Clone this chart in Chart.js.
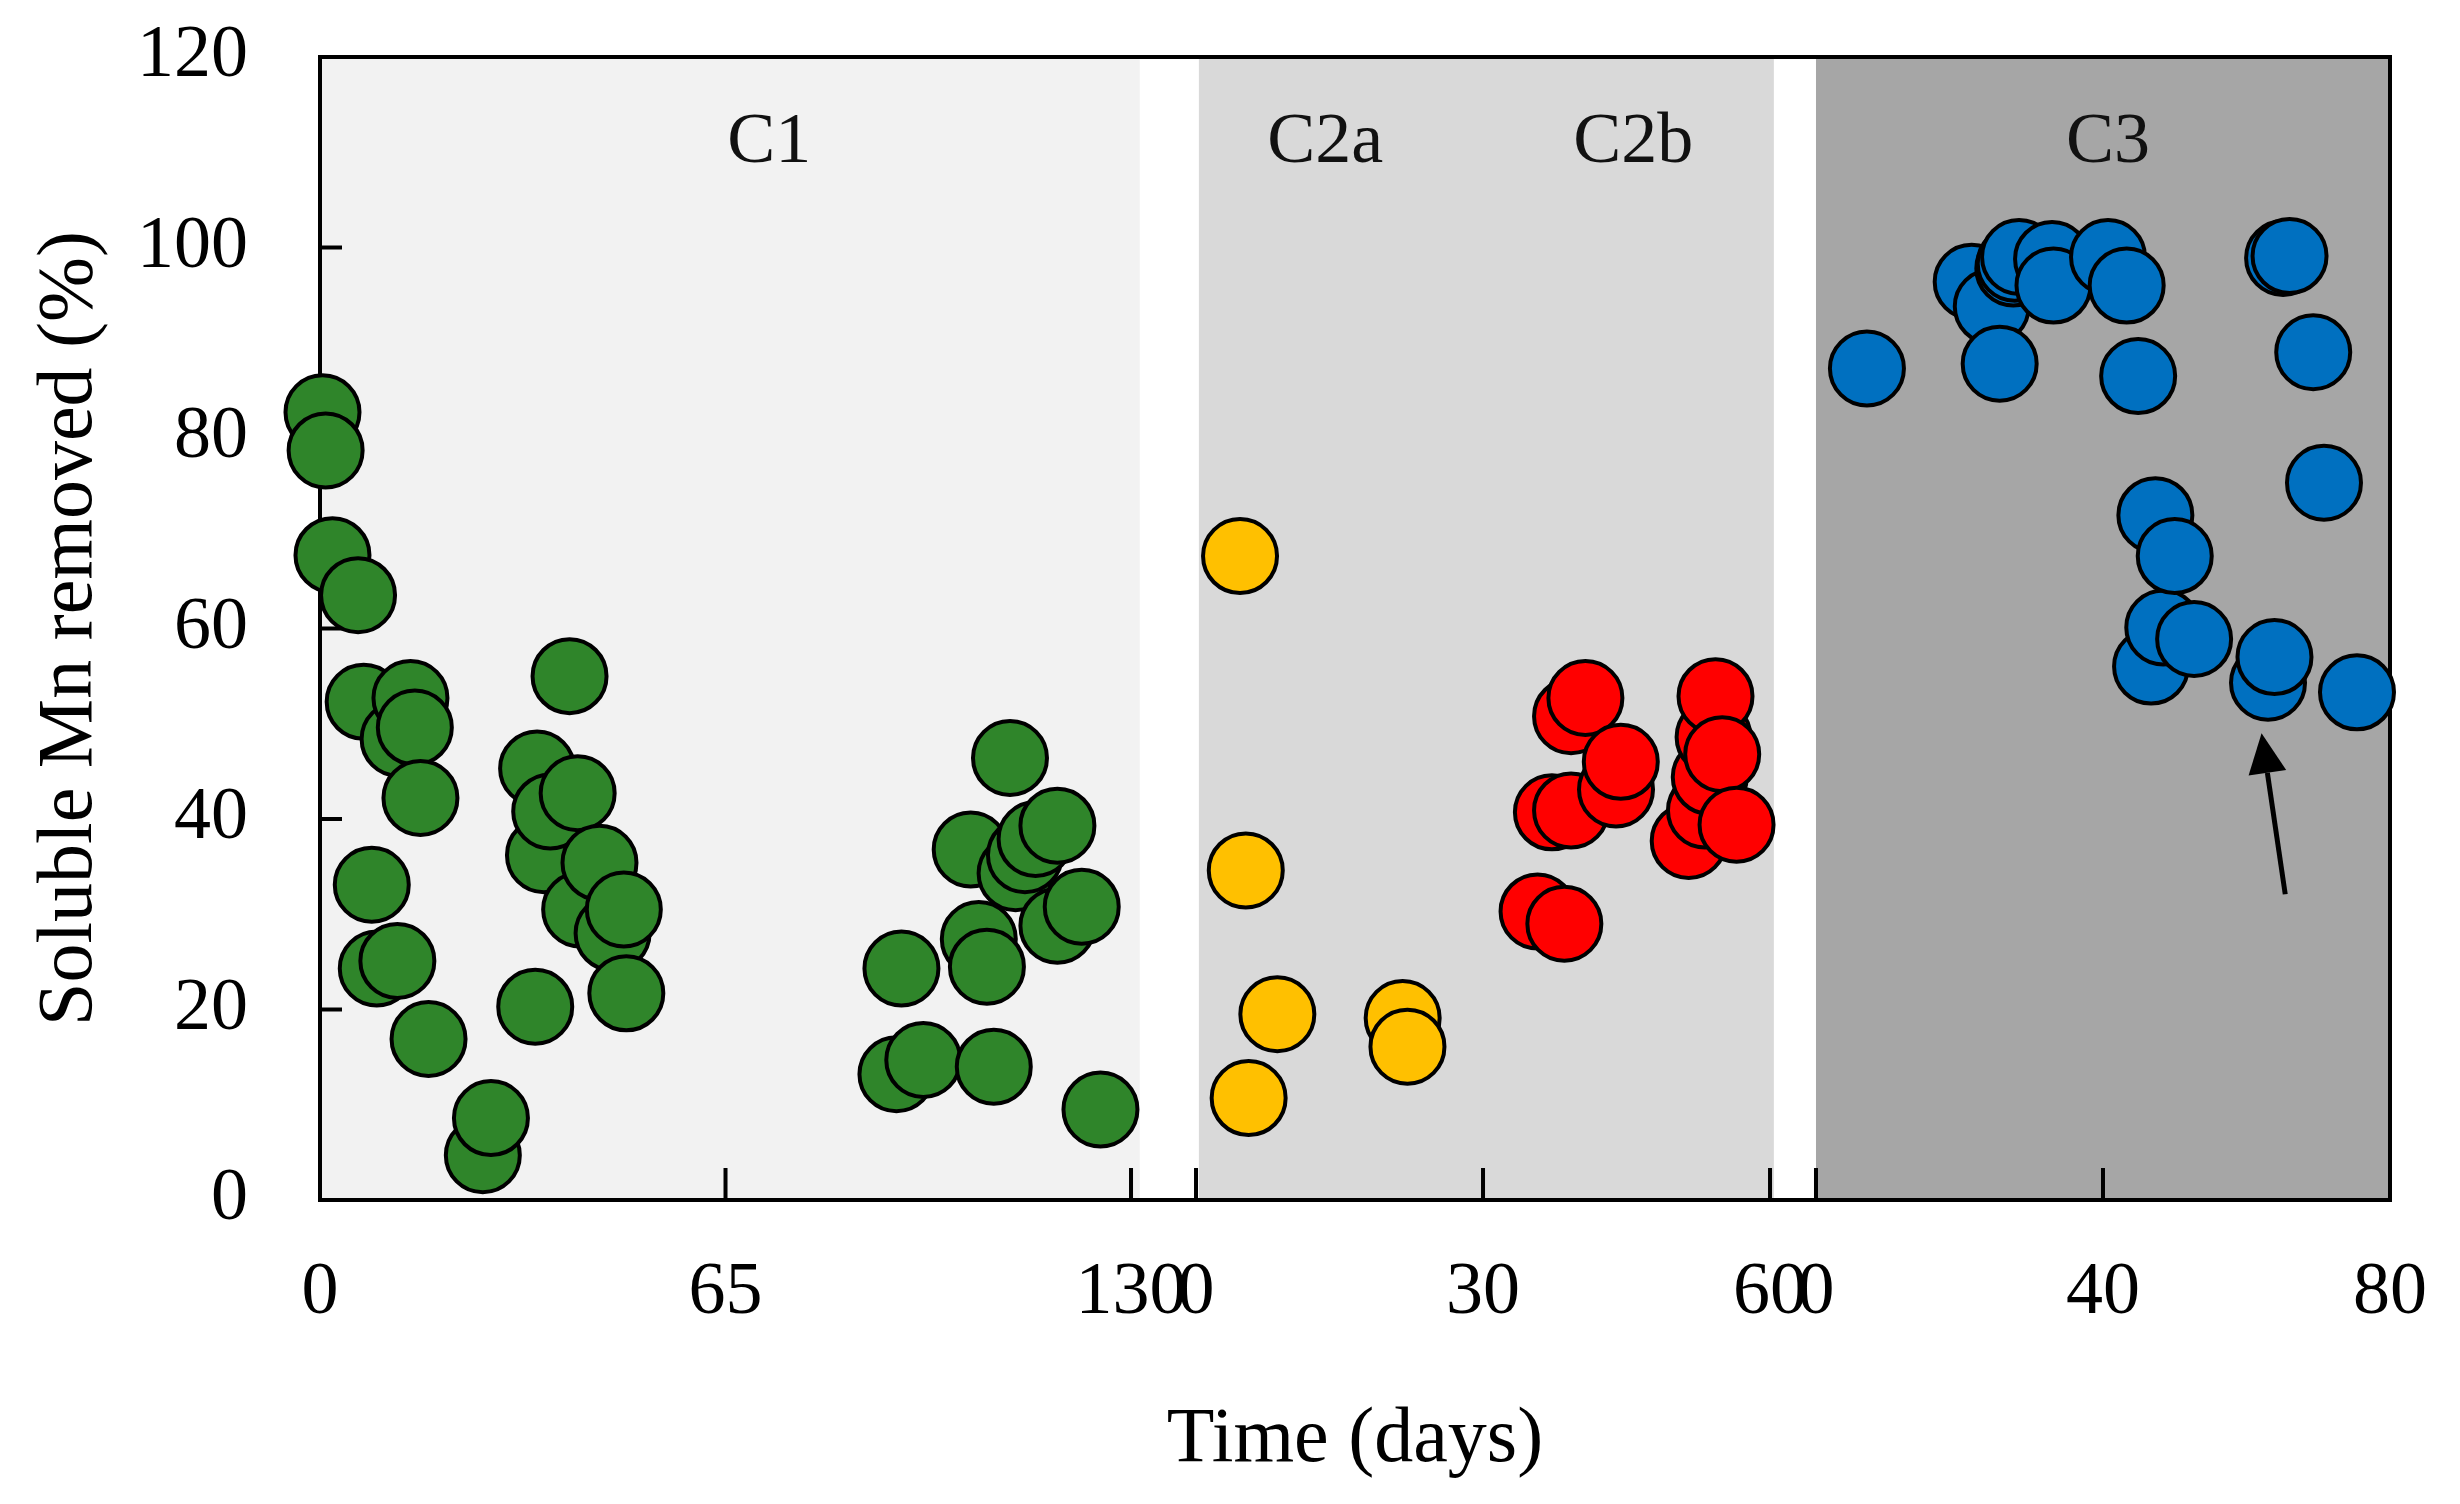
<!DOCTYPE html>
<html>
<head>
<meta charset="utf-8">
<script src="https://cdn.jsdelivr.net/npm/chart.js@4.4.1/dist/chart.umd.min.js"></script>
<style>
html,body{margin:0;padding:0;background:#ffffff;}
#wrap{width:2460px;height:1504px;}
</style>
</head>
<body>
<div id="wrap"><canvas id="chart" width="2460" height="1504"></canvas></div>
<script>
// ---------------- DATA ----------------
// C1 (days 0-130)
const c1Days    = [0.4, 0.9, 2.0, 6.1, 7.0, 8.3, 9.1, 12.4, 12.6, 14.5, 15.2, 16.1, 17.4, 26.1, 27.4, 34.5, 34.8, 35.9, 36.9, 40.0, 41.3, 41.7, 44.8, 46.9, 48.7, 49.1, 92.4, 93.2, 96.7, 104.3, 105.6, 106.9, 108.0, 110.6, 111.5, 113.0, 114.7, 118.2, 118.2, 122.1, 125.1];
const c1Removal = [82.7, 78.7, 67.7, 63.5, 52.3, 33.1, 24.3, 25.1, 48.4, 52.7, 49.6, 42.2, 16.9, 4.7, 8.6, 20.3, 45.3, 36.2, 40.8, 55.0, 42.7, 30.5, 35.4, 28.0, 30.5, 21.7, 13.2, 24.3, 14.7, 36.8, 27.4, 24.5, 14.0, 46.4, 34.3, 36.2, 37.9, 39.3, 28.8, 30.8, 9.5];
// C2a (days 0-60 axis)
const c2aDays    = [4.6, 5.2, 5.5, 8.5, 21.6, 22.1];
const c2aRemoval = [67.6, 34.6, 10.7, 19.5, 19.1, 16.1];
// C2b (days 0-60 axis)
const c2bDays    = [35.7, 37.2, 38.5, 39.2, 39.2, 40.7, 43.9, 44.4, 51.5, 53.2, 53.7, 54.1, 54.3, 55.0, 56.5];
const c2bRemoval = [30.3, 40.7, 29.0, 40.9, 50.8, 52.7, 43.1, 46.0, 37.7, 40.9, 44.4, 48.6, 52.9, 46.8, 39.4];
// C3 (days 0-80)
const c3Days    = [7.1, 21.7, 24.5, 25.6, 27.5, 27.7, 28.3, 32.9, 33.1, 40.7, 43.3, 44.9, 46.7, 47.3, 48.4, 50.0, 52.7, 63.0, 63.9, 65.1, 66.0, 69.3, 70.8, 75.4];
const c3Removal = [87.3, 96.4, 93.8, 87.8, 97.8, 98.3, 99.0, 98.8, 96.0, 99.0, 96.0, 86.5, 56.0, 71.9, 60.1, 67.6, 58.9, 54.3, 57.0, 98.9, 99.1, 89.0, 75.3, 53.3];

// tick labels
const c1TickDays = [0, 65, 130];
const c2TickDays = [0, 30, 60];
const c3TickDays = [0, 40, 80];
const yTickStep = 20;
const phaseNames = ['C1', 'C2a', 'C2b', 'C3'];
const xTitle = 'Time (days)';
const yTitle = 'Soluble Mn removed (%)';

// ---------------- LAYOUT (broken x axis) ----------------
// each segment of the broken axis occupies a part of one 0..1000 virtual scale
const segLayout = [
  {start: 0,     end: 391.8, span: 130},
  {start: 423.2, end: 700.5, span: 60},
  {start: 722.7, end: 1000,  span: 80}
];
function vx(seg, day) {
  const s = segLayout[seg];
  return s.start + day * (s.end - s.start) / s.span;
}
const bands = [
  {seg: 0, from: 0,   to: 131.4, color: '#f2f2f2'},
  {seg: 1, from: 0.3, to: 60.4,  color: '#d9d9d9'},
  {seg: 2, from: 0,   to: 80,    color: '#a6a6a6'}
];
const phaseLabelPos = [
  {seg: 0, day: 72,   y: 111},
  {seg: 1, day: 13.5, y: 111},
  {seg: 1, day: 45.7, y: 111},
  {seg: 2, day: 40.7, y: 111}
];
const arrowSpec = {seg: 2, tipDay: 62.1, tipY: 49.0, tailDay: 65.4, tailY: 32.1};

const FONT = '"Liberation Serif", "Times New Roman", serif';

const xTicks = []
  .concat(c1TickDays.map(d => ({v: vx(0, d), label: String(d)})))
  .concat(c2TickDays.map(d => ({v: vx(1, d), label: String(d)})))
  .concat(c3TickDays.map(d => ({v: vx(2, d), label: String(d)})));

function pts(seg, days, vals) {
  return days.map((d, i) => ({x: vx(seg, d), y: vals[i]}));
}
function ds(label, data, color) {
  return {
    label, data,
    backgroundColor: color,
    borderColor: '#000000',
    borderWidth: 4,
    pointRadius: 37,
    pointHoverRadius: 37,
    clip: false
  };
}

const decor = {
  id: 'decor',
  beforeDatasetsDraw(chart) {
    const {ctx, chartArea: a, scales: {x, y}} = chart;
    ctx.save();
    // shaded phase bands
    bands.forEach(b => {
      const x0 = x.getPixelForValue(vx(b.seg, b.from));
      const x1 = x.getPixelForValue(vx(b.seg, b.to));
      ctx.fillStyle = b.color;
      ctx.fillRect(x0, a.top, x1 - x0, a.bottom - a.top);
    });
    // frame
    ctx.strokeStyle = '#000';
    ctx.lineWidth = 4;
    ctx.strokeRect(a.left, a.top, a.right - a.left, a.bottom - a.top);
    // inward ticks
    ctx.lineWidth = 4;
    ctx.beginPath();
    xTicks.forEach(t => {
      const px = x.getPixelForValue(t.v);
      ctx.moveTo(px, a.bottom);
      ctx.lineTo(px, a.bottom - 32);
    });
    for (let v = 0; v <= 120; v += yTickStep) {
      const py = y.getPixelForValue(v);
      ctx.moveTo(a.left, py);
      ctx.lineTo(a.left + 22, py);
    }
    ctx.stroke();
    // phase labels
    ctx.fillStyle = '#111';
    ctx.font = '72px ' + FONT;
    ctx.textAlign = 'center';
    ctx.textBaseline = 'middle';
    phaseLabelPos.forEach((p, i) => {
      ctx.fillText(phaseNames[i], x.getPixelForValue(vx(p.seg, p.day)), y.getPixelForValue(p.y));
    });
    ctx.restore();
  },
  afterDatasetsDraw(chart) {
    const {ctx, scales: {x, y}} = chart;
    const tx = x.getPixelForValue(vx(arrowSpec.seg, arrowSpec.tipDay));
    const ty = y.getPixelForValue(arrowSpec.tipY);
    const sx = x.getPixelForValue(vx(arrowSpec.seg, arrowSpec.tailDay));
    const sy = y.getPixelForValue(arrowSpec.tailY);
    const ang = Math.atan2(ty - sy, tx - sx);
    const hl = 40, hw = 19;
    const bx = tx - hl * Math.cos(ang), by = ty - hl * Math.sin(ang);
    ctx.save();
    ctx.strokeStyle = '#000';
    ctx.fillStyle = '#000';
    ctx.lineWidth = 5;
    ctx.beginPath();
    ctx.moveTo(sx, sy);
    ctx.lineTo(bx, by);
    ctx.stroke();
    ctx.beginPath();
    ctx.moveTo(tx, ty);
    ctx.lineTo(bx + hw * Math.sin(ang), by - hw * Math.cos(ang));
    ctx.lineTo(bx - hw * Math.sin(ang), by + hw * Math.cos(ang));
    ctx.closePath();
    ctx.fill();
    ctx.restore();
  }
};

new Chart(document.getElementById('chart'), {
  type: 'scatter',
  data: {
    datasets: [
      ds('C1', pts(0, c1Days, c1Removal), '#2f852a'),
      ds('C2a', pts(1, c2aDays, c2aRemoval), '#ffc000'),
      ds('C2b', pts(1, c2bDays, c2bRemoval), '#ff0000'),
      ds('C3', pts(2, c3Days, c3Removal), '#0070c0')
    ]
  },
  options: {
    responsive: false,
    devicePixelRatio: 1,
    animation: false,
    layout: {padding: {left: 0, right: 70, top: 57, bottom: 0}},
    plugins: {legend: {display: false}, tooltip: {enabled: false}},
    scales: {
      x: {
        type: 'linear', min: 0, max: 1000,
        grid: {display: false}, border: {display: false},
        afterBuildTicks: s => { s.ticks = xTicks.map(t => ({value: t.v})); },
        afterFit: s => { s.height = 304; s.paddingLeft = 0; s.paddingRight = 0; },
        ticks: {
          autoSkip: false, maxRotation: 0, minRotation: 0, padding: 41,
          color: '#000', font: {family: FONT, size: 74},
          callback: (v, i) => xTicks[i] ? xTicks[i].label : ''
        },
        title: {display: true, text: xTitle, color: '#000', font: {family: FONT, size: 78}, padding: {top: 0, bottom: 17}}
      },
      y: {
        type: 'linear', min: 0, max: 120,
        grid: {display: false}, border: {display: false},
        afterFit: s => { s.width = 320; s.paddingTop = 0; s.paddingBottom = 0; },
        ticks: {stepSize: yTickStep, padding: 64, color: '#000', font: {family: FONT, size: 74}},
        title: {display: true, text: yTitle, color: '#000', font: {family: FONT, size: 78}, padding: {top: 24, bottom: 0}}
      }
    }
  },
  plugins: [decor]
});
</script>
</body>
</html>
